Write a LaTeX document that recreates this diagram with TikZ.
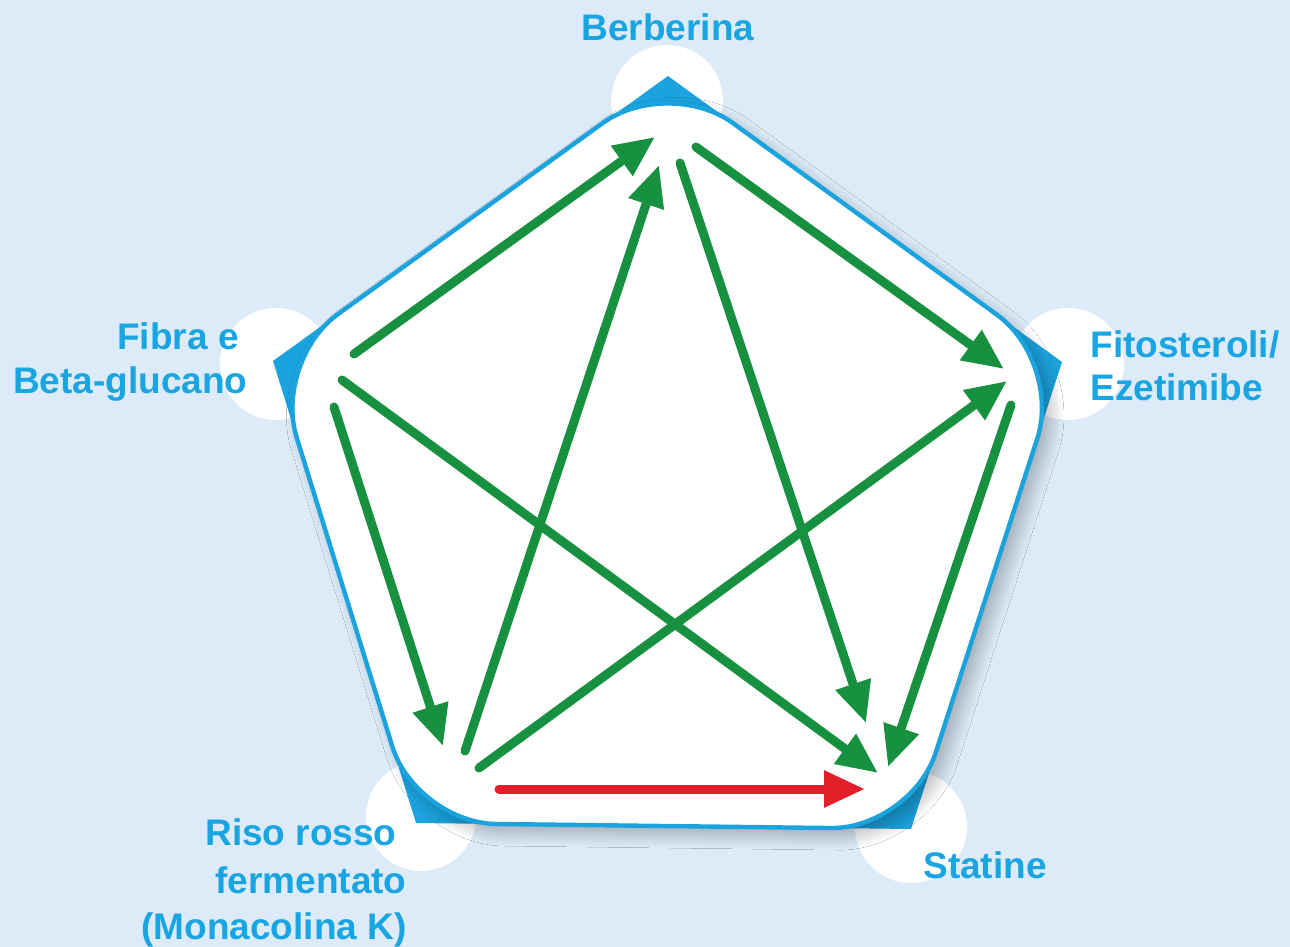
\documentclass[tikz,border=0pt]{standalone}
\usepackage{fontspec}
\setmainfont{Liberation Sans}
\usetikzlibrary{arrows.meta,shadows.blur,calc}
\definecolor{bg}{HTML}{DDEBF9}
\definecolor{pblue}{HTML}{1BA3DE}
\definecolor{tblue}{HTML}{19A5E1}
\definecolor{agreen}{HTML}{17903F}
\definecolor{ared}{HTML}{E3202A}
\begin{document}
\begin{tikzpicture}[x=0.5pt,y=-0.5pt,
  garrow/.style={draw=agreen, line width=4.5pt, line cap=round, -{Triangle[length=20.5pt,width=17.5pt]}},
  rarrow/.style={garrow, draw=ared},
  lbl/.style={text=tblue, font=\fontsize{18.5}{22}\selectfont\bfseries, inner sep=0pt},
  halo/.style={fill=white}]
\useasboundingbox (0,0) rectangle (1290,947);
\fill[bg] (0,0) rectangle (1290,947);
% vertices
\coordinate (T) at (668,76);
\coordinate (R) at (1062,362);
\coordinate (BR) at (911,829);
\coordinate (BL) at (416,823);
\coordinate (L) at (273,361);
% halos
\fill[halo] (667,101) circle[radius=56];
\fill[halo] (1068,364) circle[radius=56];
\fill[halo] (911,827) circle[radius=56];
\fill[halo] (421,816) circle[radius=55];
\fill[halo] (276,364) circle[radius=56];
% sharp blue pentagon
\fill[pblue] (T)--(R)--(BR)--(BL)--(L)--cycle;
% white rounded pentagon
\draw[pblue, line width=2.2pt, fill=white, rounded corners=40pt,
  blur shadow={shadow xshift=4pt, shadow yshift=-4pt, shadow opacity=30, shadow blur radius=7pt, shadow blur steps=25}]
  ($(T)!0.5!(R)$) -- (R) -- (BR) -- (BL) -- (L) -- (T) -- cycle;
% arrow end points
\coordinate (a1s) at (354,354); \coordinate (a1e) at (655,137);
\coordinate (a2s) at (465,751); \coordinate (a2e) at (659,165);
\coordinate (a3s) at (696,147); \coordinate (a3e) at (1004,369);
\coordinate (a4s) at (680,163); \coordinate (a4e) at (866,723);
\coordinate (a5s) at (342,380); \coordinate (a5e) at (878,773);
\coordinate (a6s) at (334,407); \coordinate (a6e) at (443,746);
\coordinate (a7s) at (479,768); \coordinate (a7e) at (1007,381);
\coordinate (a8s) at (1011,405); \coordinate (a8e) at (888,767);
\coordinate (a9s) at (499,789); \coordinate (a9e) at (865,789);
\draw[garrow] (a1s) -- (a1e);
\draw[garrow] (a2s) -- (a2e);
\draw[garrow] (a3s) -- (a3e);
\draw[garrow] (a4s) -- (a4e);
\draw[garrow] (a5s) -- (a5e);
\draw[garrow] (a6s) -- (a6e);
\draw[garrow] (a7s) -- (a7e);
\draw[garrow] (a8s) -- (a8e);
\draw[rarrow] (a9s) -- (a9e);
% labels
\node[lbl, anchor=base] (ber) at (668,41) {Berberina};
\node[lbl, anchor=base east] (fib1) at (239,349) {Fibra e};
\node[lbl, anchor=base east] (fib2) at (248,393) {Beta-glucano};
\node[lbl, anchor=base west] (fit1) at (1090,357) {Fitosteroli/};
\node[lbl, anchor=base west] (fit2) at (1090,400) {Ezetimibe};
\node[lbl, anchor=base east] (ris1) at (397,845) {Riso rosso};
\node[lbl, anchor=base east] (ris2) at (407,893) {fermentato};
\node[lbl, anchor=base east] (ris3) at (407,939) {(Monacolina K)};
\node[lbl, anchor=base west] (sta) at (923,878) {Statine};
\end{tikzpicture}
\end{document}
